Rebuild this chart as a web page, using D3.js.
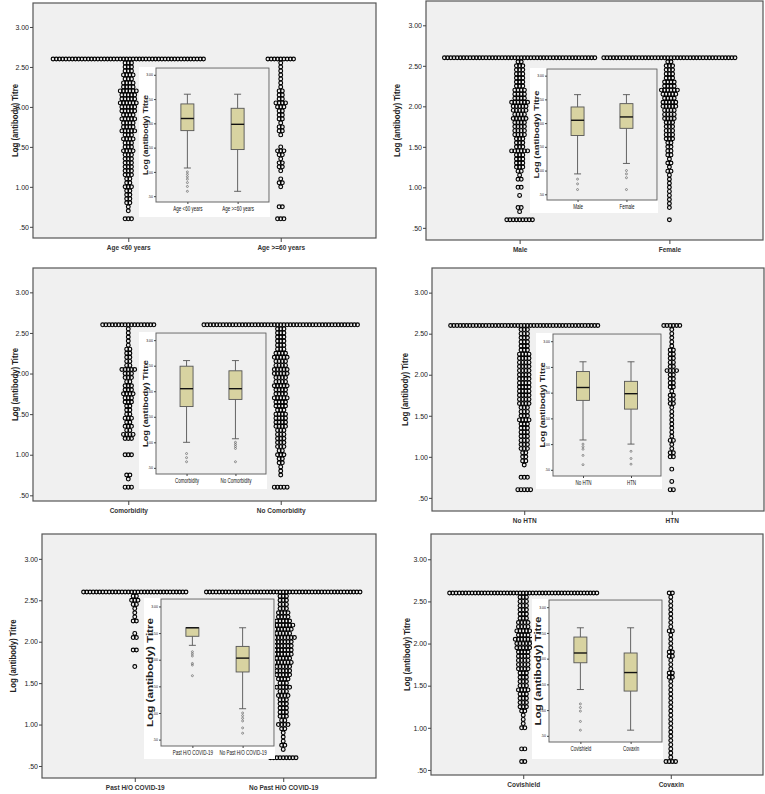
<!DOCTYPE html>
<html>
<head>
<meta charset="utf-8">
<script src="https://cdn.jsdelivr.net/npm/d3@7"></script>
<style>
body{margin:0;background:#fff;}
text{font-family:"Liberation Sans", Arial, sans-serif;}
</style>
</head>
<body>
<div id="chart-area"></div>
<script>
//levels of log titre where the dots are stacked (0.60 ... 2.60)
var levels = [0.60,0.65,0.70,0.75,0.80,0.85,0.90,0.95,1.00,1.05,1.10,1.15,1.20,1.25,1.30,1.35,1.40,1.45,1.50,1.55,
              1.60,1.65,1.70,1.75,1.80,1.85,1.90,1.95,2.00,2.05,2.10,2.15,2.20,2.25,2.30,2.35,2.40,2.45,2.50,2.55,2.60];
var yTicks = [0.5, 1.0, 1.5, 2.0, 2.5, 3.0];

//number of dots on each level, one array per group
var ageLabels = ["Age <60 years", "Age >=60 years"];
var ageUnder60 = [3,0,1,1,2,2,2,2,3,2,2,3,3,3,3,3,3,4,3,3,4,3,5,4,4,5,4,5,5,6,5,5,6,4,4,3,4,3,3,3,48];
var ageOver60  = [3,0,0,2,0,0,0,0,1,2,1,0,1,2,2,1,2,3,1,0,0,1,2,2,1,2,2,2,3,4,2,2,2,1,1,1,1,1,1,1,9];

var sexLabels = ["Male", "Female"];
var male   = [9,0,1,2,0,0,1,0,2,0,2,1,2,3,3,3,3,6,3,3,3,4,4,4,4,5,4,5,5,6,4,4,4,3,3,3,3,3,3,2,48];
var female = [1,0,0,1,1,1,1,1,1,1,1,1,2,1,2,1,2,2,2,2,3,3,3,3,3,4,4,4,5,5,4,5,6,4,4,3,3,3,3,2,42];

var comorbLabels = ["Comorbidity", "No Comorbidity"];
var comorbidity   = [3,0,1,2,0,0,0,0,3,0,0,0,3,4,2,3,2,3,2,2,2,3,3,4,3,3,2,3,3,5,2,2,2,2,2,1,1,1,1,1,17];
var noComorbidity = [5,0,0,1,1,1,2,2,3,2,3,3,3,3,3,4,4,4,4,3,4,4,5,4,4,5,4,4,5,5,4,4,5,4,3,3,3,3,3,3,49];

var htnLabels = ["No HTN", "HTN"];
var noHtn = [5,0,0,3,0,0,1,2,2,2,3,3,3,3,3,3,3,4,3,3,3,4,4,4,4,4,4,4,4,4,4,4,4,4,3,3,3,3,3,3,47];
var htn   = [2,0,1,0,0,1,0,0,2,2,1,1,2,1,1,1,1,1,1,1,1,2,2,2,1,2,2,2,2,4,2,2,2,2,2,1,1,1,1,1,6];

var covidLabels = ["Past H/O COVID-19", "No Past H/O COVID-19"];
var pastCovid   = [0,0,0,0,0,0,0,0,0,0,0,0,0,0,0,0,0,0,0,0,0,0,1,0,0,0,2,0,0,2,1,0,0,2,1,1,1,2,3,2,33];
var noPastCovid = [9,0,1,2,1,1,1,2,4,2,3,3,3,3,3,4,3,5,3,4,5,5,5,6,5,6,6,6,6,8,5,6,7,5,4,4,3,3,3,3,49];

var vaccineLabels = ["Covishield", "Covaxin"];
var covishield = [2,0,0,2,0,0,0,0,2,1,1,1,2,3,3,3,3,4,3,3,3,3,4,4,4,4,4,5,5,6,4,5,4,4,3,3,3,3,3,3,47];
var covaxin    = [4,1,1,1,1,1,1,1,1,1,1,1,1,1,1,1,1,1,1,1,2,2,1,1,1,2,2,1,1,1,1,2,1,1,1,1,1,1,1,1,2];

//inset box plots: [lower whisker, q1, median, q3, upper whisker] and outliers
var ageBox = [[1.08,1.85,2.10,2.40,2.60],[0.60,1.46,1.98,2.31,2.60]];
var ageOut = [[1.00,0.95,0.90,0.85,0.78,0.70,0.60],[]];
var sexBox = [[0.93,1.74,2.06,2.34,2.60],[1.15,1.89,2.13,2.41,2.60]];
var sexOut = [[0.82,0.72,0.60],[1.00,0.93,0.85,0.60]];
var comorbBox = [[1.00,1.70,2.05,2.49,2.60],[1.07,1.84,2.05,2.40,2.60]];
var comorbOut = [[0.78,0.70,0.62],[1.00,0.96,0.92,0.88,0.62]];
var htnBox = [[1.08,1.85,2.10,2.41,2.60],[1.00,1.68,1.98,2.22,2.60]];
var htnOut = [[1.00,0.95,0.90,0.78,0.60],[0.86,0.72,0.61]];
var covidBox = [[2.27,2.44,2.60,2.60,2.60],[1.08,1.77,2.03,2.25,2.60]];
var covidOut = [[2.15,2.11,2.07,1.93,1.90,1.70],[1.00,0.95,0.90,0.85,0.72,0.62]];
var vaccineBox = [[1.40,1.92,2.11,2.42,2.60],[0.61,1.37,1.73,2.11,2.60]];
var vaccineOut = [[1.12,1.05,0.98,0.78,0.61],[]];

var panels = [
    {labels: ageLabels, counts: [ageUnder60, ageOver60], box: ageBox, out: ageOut},
    {labels: sexLabels, counts: [male, female], box: sexBox, out: sexOut},
    {labels: comorbLabels, counts: [comorbidity, noComorbidity], box: comorbBox, out: comorbOut},
    {labels: htnLabels, counts: [noHtn, htn], box: htnBox, out: htnOut},
    {labels: covidLabels, counts: [pastCovid, noPastCovid], box: covidBox, out: covidOut},
    {labels: vaccineLabels, counts: [covishield, covaxin], box: vaccineBox, out: vaccineOut}
];

//panel geometry (main plot frame, y title x, inset [x0,y0,x1,y1,frame bottom], inset title length/size)
var layout = [
    {x0:33,  x1:376, y0:3,   y1:238, ymin:0.36,  tx:16,  inset:[139,67,270,217,202],  itl:80,  itf:7.5},
    {x0:426, x1:763, y0:1,   y1:240, ymin:0.35,  tx:398, inset:[530,68,658,213,200],  itl:88,  itf:7.5},
    {x0:33,  x1:376, y0:268, y1:501, ymin:0.43,  tx:16,  inset:[139,332,267,489,474], itl:87,  itf:7.5},
    {x0:432, x1:764, y0:268, y1:511, ymin:0.34,  tx:406, inset:[536,333,662,489,476], itl:85,  itf:7.5},
    {x0:42,  x1:376, y0:534, y1:778, ymin:0.355, tx:14,  inset:[144,598,275,759,746], itl:109, itf:8.5},
    {x0:431, x1:763, y0:534, y1:775, ymin:0.44,  tx:408, inset:[532,599,663,759,742], itl:109, itf:8.5}
];

var pitch = 3.2, dotR = 1.9;

var svg = d3.select("#chart-area")
    .append("svg")
        .attr("width", 765)
        .attr("height", 794);

//spss style numbers: 3.00, 2.50 ... .50
var fmt2 = d3.format(".2f");
function fmt(v){ return fmt2(v).replace(/^0\./, "."); }

function styleAxis(ax, size){
    ax.select(".domain").remove();
    ax.selectAll(".tick line").attr("stroke", "#444");
    ax.selectAll("text")
        .attr("fill", "#222")
        .attr("font-size", size)
        .attr("font-family", "Liberation Sans, Arial, sans-serif");
}

panels.forEach(function(p, n){ drawPanel(p, layout[n]); });

function drawPanel(p, L){
    var g = svg.append("g");

    var y = d3.scaleLinear().domain([L.ymin, 3.3]).range([L.y1, L.y0]);
    var x = d3.scalePoint().domain(p.labels).range([L.x0, L.x1]).padding(0.625);

    //plot background and frame
    g.append("rect")
        .attr("x", L.x0).attr("y", L.y0)
        .attr("width", L.x1 - L.x0).attr("height", L.y1 - L.y0)
        .attr("fill", "#f0f0f0")
        .attr("stroke", "#555")
        .attr("stroke-width", 1.2);

    //axes
    var yAx = g.append("g")
        .attr("transform", "translate(" + L.x0 + ",0)")
        .call(d3.axisLeft(y).tickValues(yTicks).tickSize(3).tickPadding(1).tickFormat(fmt));
    styleAxis(yAx, 7);

    var xAx = g.append("g")
        .attr("transform", "translate(0," + L.y1 + ")")
        .call(d3.axisBottom(x).tickSize(4).tickPadding(3));
    styleAxis(xAx, 6.5);
    xAx.selectAll("text").attr("font-weight", "bold").attr("fill", "#333");

    //y title
    g.append("text")
        .attr("transform", "translate(" + L.tx + "," + (L.y0 + L.y1) / 2 + ") rotate(-90)")
        .attr("text-anchor", "middle")
        .attr("dominant-baseline", "middle")
        .attr("font-size", 9)
        .attr("font-weight", "bold")
        .attr("fill", "#222")
        .attr("textLength", 73)
        .attr("lengthAdjust", "spacingAndGlyphs")
        .text("Log (antibody) Titre");

    //stacked dots, centred on each category
    p.counts.forEach(function(c, k){
        var dots = [];
        c.forEach(function(cnt, i){
            for (var j = 0; j < cnt; j++) dots.push({v: levels[i], off: (j - (cnt - 1) / 2) * pitch});
        });
        g.append("g").selectAll("circle")
            .data(dots)
            .enter().append("circle")
                .attr("cx", d => x(p.labels[k]) + d.off)
                .attr("cy", d => y(d.v))
                .attr("r", dotR)
                .attr("fill", "none")
                .attr("stroke", "#000")
                .attr("stroke-width", 1.15);
    });

    drawInset(g, p, L);
}

function drawInset(g, p, L){
    var I = L.inset;
    var fx0 = I[0] + 17, fx1 = I[2] - 1, fy0 = I[1] + 1, fy1 = I[4];

    g.append("rect")
        .attr("x", I[0]).attr("y", I[1])
        .attr("width", I[2] - I[0]).attr("height", I[3] - I[1])
        .attr("fill", "#fff");

    g.append("rect")
        .attr("x", fx0).attr("y", fy0)
        .attr("width", fx1 - fx0).attr("height", fy1 - fy0)
        .attr("fill", "#f0f0f0")
        .attr("stroke", "#666")
        .attr("stroke-width", 1);

    var iy = d3.scaleLinear().domain([0.38, 3.14]).range([fy1, fy0]);
    var ix = d3.scalePoint().domain(p.labels).range([fx0, fx1]).padding(0.625);

    var yAx = g.append("g")
        .attr("transform", "translate(" + fx0 + ",0)")
        .call(d3.axisLeft(iy).tickValues(yTicks).tickSize(2).tickPadding(1).tickFormat(fmt));
    styleAxis(yAx, 3.5);

    //narrow labels: squeeze horizontally around the tick
    var xAx = g.append("g")
        .attr("transform", "translate(0," + fy1 + ")")
        .call(d3.axisBottom(ix).tickSize(2).tickPadding(2));
    styleAxis(xAx, 7.5);
    xAx.selectAll("text").attr("fill", "#111").attr("transform", "scale(0.6,1)");

    //inset title
    g.append("text")
        .attr("transform", "translate(" + (I[0] + 7) + "," + (fy0 + fy1) / 2 + ") rotate(-90)")
        .attr("text-anchor", "middle")
        .attr("dominant-baseline", "middle")
        .attr("font-size", L.itf)
        .attr("font-weight", "bold")
        .attr("fill", "#222")
        .attr("textLength", L.itl)
        .attr("lengthAdjust", "spacingAndGlyphs")
        .text("Log (antibody) Titre");

    var bw = 13, cw = 7;
    p.box.forEach(function(b, k){
        var cx = ix(p.labels[k]);
        var bg = g.append("g").attr("stroke", "#555").attr("stroke-width", 0.9);

        //whiskers and caps
        bg.append("line").attr("x1", cx).attr("x2", cx).attr("y1", iy(b[0])).attr("y2", iy(b[1]));
        bg.append("line").attr("x1", cx - cw / 2).attr("x2", cx + cw / 2).attr("y1", iy(b[0])).attr("y2", iy(b[0]));
        if (b[4] > b[3]) {
            bg.append("line").attr("x1", cx).attr("x2", cx).attr("y1", iy(b[3])).attr("y2", iy(b[4]));
            bg.append("line").attr("x1", cx - cw / 2).attr("x2", cx + cw / 2).attr("y1", iy(b[4])).attr("y2", iy(b[4]));
        }

        //box
        bg.append("rect")
            .attr("x", cx - bw / 2).attr("y", iy(b[3]))
            .attr("width", bw).attr("height", iy(b[1]) - iy(b[3]))
            .attr("fill", "#d8d3a1");

        //median
        bg.append("line")
            .attr("x1", cx - bw / 2).attr("x2", cx + bw / 2)
            .attr("y1", iy(b[2])).attr("y2", iy(b[2]))
            .attr("stroke", "#111").attr("stroke-width", 1.4);

        //outliers
        bg.selectAll("circle")
            .data(p.out[k])
            .enter().append("circle")
                .attr("cx", cx)
                .attr("cy", d => iy(d))
                .attr("r", 1)
                .attr("fill", "none")
                .attr("stroke-width", 0.6);
    });
}
</script>
</body>
</html>
